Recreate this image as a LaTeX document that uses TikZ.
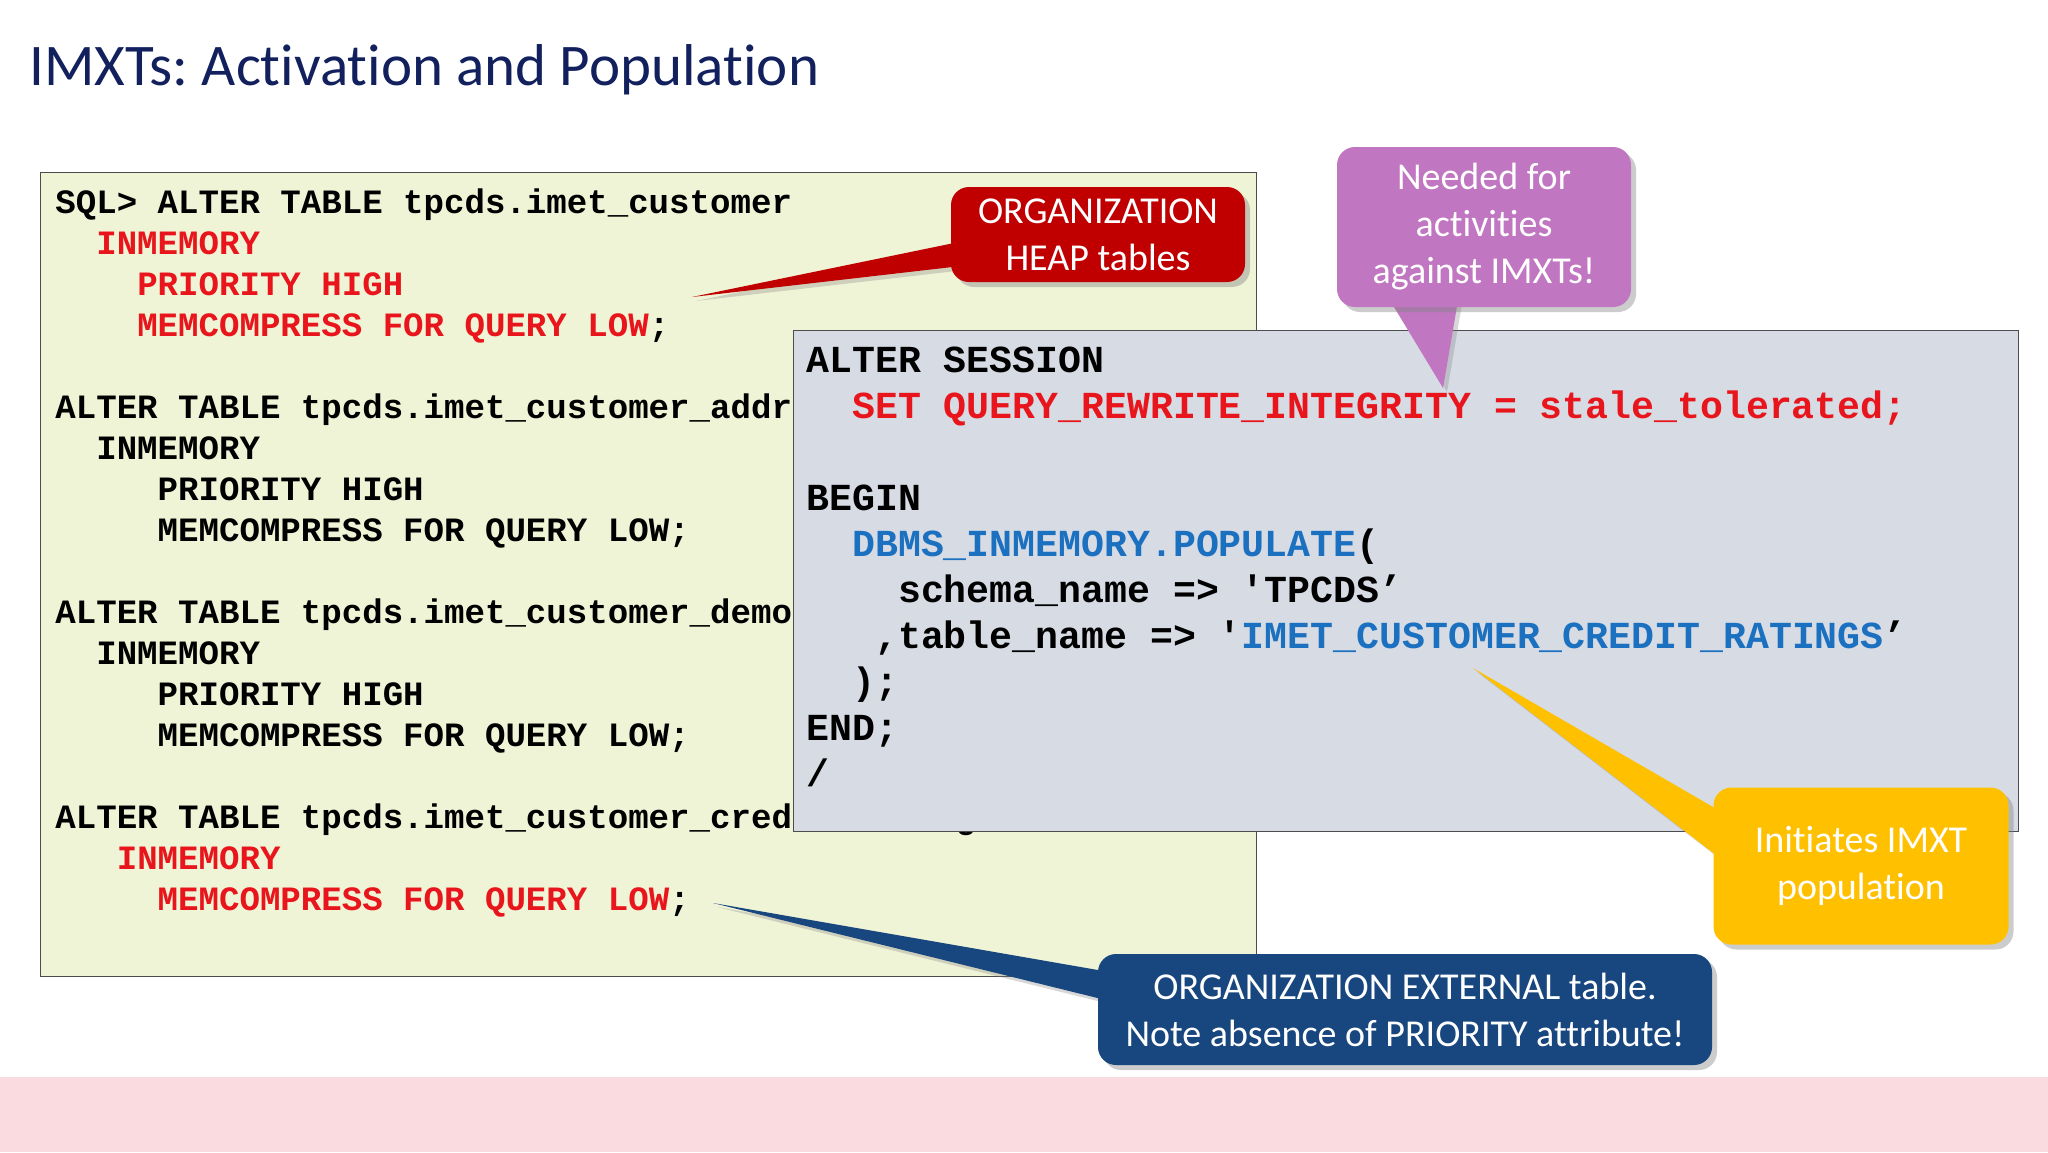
\documentclass[tikz,border=0pt]{standalone}
\usepackage{fontspec}
\setmainfont{Carlito}[Ligatures=NoCommon]
\newfontfamily\codefont{Liberation Mono}
\usetikzlibrary{positioning,calc,shadows}
\frenchspacing

\definecolor{titleblue}{RGB}{18,32,94}
\definecolor{codered}{RGB}{232,22,28}
\definecolor{codeblue}{RGB}{28,112,192}
\definecolor{heapred}{RGB}{192,0,0}
\definecolor{notepurple}{RGB}{192,118,192}
\definecolor{noteyellow}{RGB}{255,192,0}
\definecolor{noteblue}{RGB}{24,70,126}
\definecolor{sqlyellow}{RGB}{240,244,215}
\definecolor{sqlgray}{RGB}{214,219,228}
\definecolor{bandpink}{RGB}{250,220,224}

\newcommand{\hl}[1]{\textcolor{codered}{#1}}
\newcommand{\bl}[1]{\textcolor{codeblue}{#1}}
\newcommand{\ind}[1]{\hspace*{#1\fontcharwd\font32 }}

\pgfdeclarelayer{codelayer}
\pgfdeclarelayer{pointerlayer}
\pgfsetlayers{codelayer,pointerlayer,main}

\tikzset{
	codebox/.style={
		draw=black!70,
		line width=0.7pt,
		anchor=north west,
		inner sep=0pt
	},
	code/.style={
		anchor=base west,
		inner sep=0pt,
		align=left,
		font=\codefont\bfseries
	},
	callout/.style={
		rounded corners=9pt,
		text=white,
		align=center,
		inner sep=0pt,
		font=\fontsize{19}{23.5}\selectfont,
		drop shadow={shadow xshift=2.5pt, shadow yshift=-2.5pt, opacity=0.4}
	},
	pointer/.style={
		drop shadow={shadow xshift=2pt, shadow yshift=-2pt, opacity=0.3}
	}
}

\begin{document}
\begin{tikzpicture}[x=0.5pt,y=-0.5pt]
\useasboundingbox (0,0) rectangle (2048,1152);

\begin{pgfonlayer}{codelayer}
\fill[white] (0,0) rectangle (2048,1152);
\fill[bandpink] (0,1077) rectangle (2048,1152);

\node[anchor=base west, inner sep=0pt, text=titleblue, font=\fontsize{29.5}{35}\selectfont] (title) at (29,85) {IMXTs: Activation and Population};

% table definitions (node base = last line)
\node[codebox, fill=sqlyellow, minimum width=608pt, minimum height=402pt] (tables) at (40,172) {};
\node[code, font=\codefont\bfseries\fontsize{17.05}{20.5}\selectfont] (tablesql) at (55,910) {%
SQL> ALTER TABLE tpcds.imet\_customer\\
\ind{2}\hl{INMEMORY}\\
\ind{4}\hl{PRIORITY HIGH}\\
\ind{4}\hl{MEMCOMPRESS FOR QUERY LOW};\\
\mbox{}\\
ALTER TABLE tpcds.imet\_customer\_address\\
\ind{2}INMEMORY\\
\ind{5}PRIORITY HIGH\\
\ind{5}MEMCOMPRESS FOR QUERY LOW;\\
\mbox{}\\
ALTER TABLE tpcds.imet\_customer\_demographics\\
\ind{2}INMEMORY\\
\ind{5}PRIORITY HIGH\\
\ind{5}MEMCOMPRESS FOR QUERY LOW;\\
\mbox{}\\
ALTER TABLE tpcds.imet\_customer\_credit\_ratings\\
\ind{3}\hl{INMEMORY}\\
\ind{5}\hl{MEMCOMPRESS FOR QUERY LOW};};

% session and populate
\node[codebox, fill=sqlgray, minimum width=612.5pt, minimum height=250.5pt] (session) at (793,330) {};
\node[code, font=\codefont\bfseries\fontsize{19.1}{23}\selectfont] (sessionsql) at (806,786) {%
ALTER SESSION\\
\ind{2}\hl{SET QUERY\_REWRITE\_INTEGRITY = stale\_tolerated;}\\
\mbox{}\\
BEGIN\\
\ind{2}\bl{DBMS\_INMEMORY.POPULATE}(\\
\ind{4}schema\_name => 'TPCDS’\\
\ind{3},table\_name => '\bl{IMET\_CUSTOMER\_CREDIT\_RATINGS}’\\
\ind{2});\\
END;\\
/};
\end{pgfonlayer}

% callouts
\node[callout, fill=heapred, minimum width=147pt, minimum height=47.5pt] (heap) at (1098,234.5) {ORGANIZATION\\HEAP tables};
\node[callout, fill=notepurple, minimum width=147pt, minimum height=80pt] (need) at (1484,227) {Needed for\\activities\\against IMXTs!};
\node[callout, fill=noteyellow, minimum width=147.5pt, minimum height=78.5pt] (pop) at (1861,866) {Initiates IMXT\\population};
\node[callout, fill=noteblue, minimum width=307pt, minimum height=55.5pt] (ext) at (1405,1009.5) {ORGANIZATION EXTERNAL table.\\Note absence of PRIORITY attribute!};

\coordinate (heaptip) at (692,297);
\coordinate (needtip) at (1443,388);
\coordinate (poptip) at (1473,668);
\coordinate (exttip) at (713,903);

\begin{pgfonlayer}{pointerlayer}
\fill[pointer, heapred] ($(heap.west)+(6,8)$) -- (heaptip) -- ($(heap.west)+(6,32)$) -- cycle;
\fill[pointer, notepurple] ($(need.south)+(-94,-7)$) -- (needtip) -- ($(need.south)+(-26,-7)$) -- cycle;
\fill[pointer, noteyellow] ($(pop.west)+(6,-55.5)$) -- (poptip) -- ($(pop.west)+(6,-8.5)$) -- cycle;
\fill[pointer, noteblue] ($(ext.west)+(6,-38.5)$) -- (exttip) -- ($(ext.west)+(6,-10)$) -- cycle;
\end{pgfonlayer}
\end{tikzpicture}
\end{document}
